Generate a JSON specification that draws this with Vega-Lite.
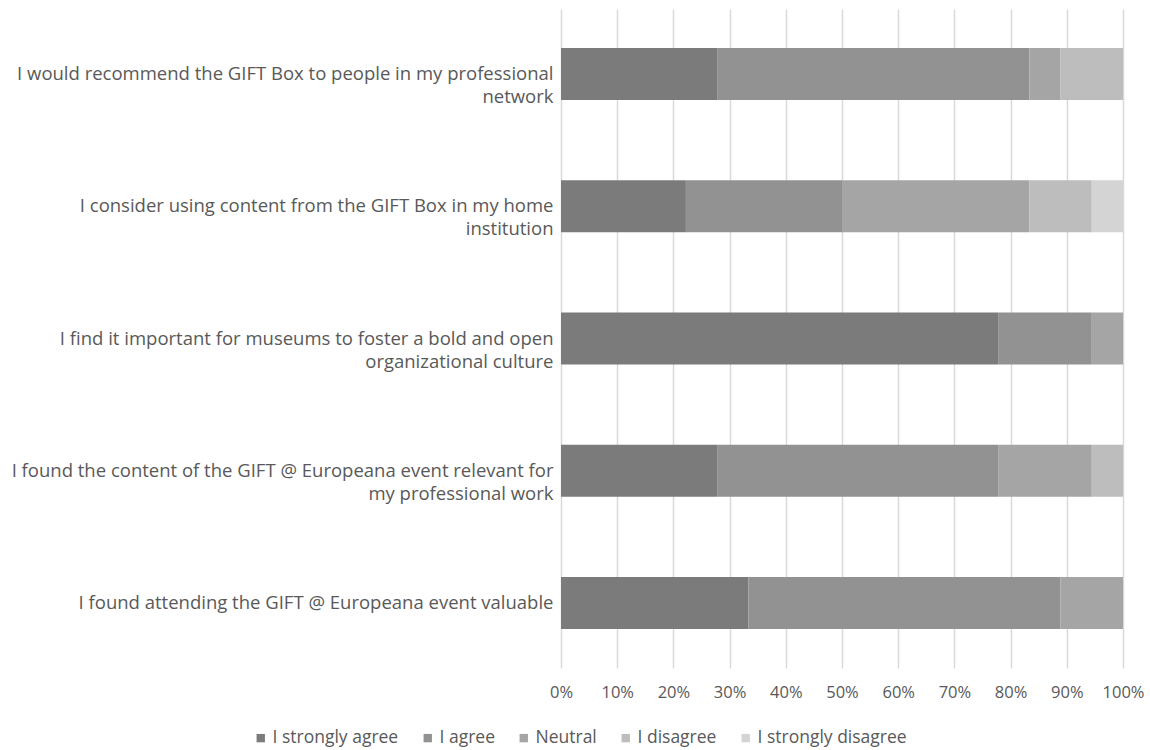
{
  "$schema": "https://vega.github.io/schema/vega-lite/v6.json",
  "width": 562,
  "height": 659,
  "autosize": "none",
  "padding": {"left": 561, "top": 9, "right": 27, "bottom": 82},
  "background": "white",
  "data": {
    "values": [
      {"q": "I would recommend the GIFT Box to people in my professional|network", "r": "I strongly agree", "k": 1, "v": 0.2778},
      {"q": "I would recommend the GIFT Box to people in my professional|network", "r": "I agree", "k": 2, "v": 0.5556},
      {"q": "I would recommend the GIFT Box to people in my professional|network", "r": "Neutral", "k": 3, "v": 0.0556},
      {"q": "I would recommend the GIFT Box to people in my professional|network", "r": "I disagree", "k": 4, "v": 0.1111},
      {"q": "I would recommend the GIFT Box to people in my professional|network", "r": "I strongly disagree", "k": 5, "v": 0},
      {"q": "I consider using content from the GIFT Box in my home|institution", "r": "I strongly agree", "k": 1, "v": 0.2222},
      {"q": "I consider using content from the GIFT Box in my home|institution", "r": "I agree", "k": 2, "v": 0.2778},
      {"q": "I consider using content from the GIFT Box in my home|institution", "r": "Neutral", "k": 3, "v": 0.3333},
      {"q": "I consider using content from the GIFT Box in my home|institution", "r": "I disagree", "k": 4, "v": 0.1111},
      {"q": "I consider using content from the GIFT Box in my home|institution", "r": "I strongly disagree", "k": 5, "v": 0.0556},
      {"q": "I find it important for museums to foster a bold and open|organizational culture", "r": "I strongly agree", "k": 1, "v": 0.7778},
      {"q": "I find it important for museums to foster a bold and open|organizational culture", "r": "I agree", "k": 2, "v": 0.1667},
      {"q": "I find it important for museums to foster a bold and open|organizational culture", "r": "Neutral", "k": 3, "v": 0.0556},
      {"q": "I find it important for museums to foster a bold and open|organizational culture", "r": "I disagree", "k": 4, "v": 0},
      {"q": "I find it important for museums to foster a bold and open|organizational culture", "r": "I strongly disagree", "k": 5, "v": 0},
      {"q": "I found the content of the GIFT @ Europeana event relevant for|my professional work", "r": "I strongly agree", "k": 1, "v": 0.2778},
      {"q": "I found the content of the GIFT @ Europeana event relevant for|my professional work", "r": "I agree", "k": 2, "v": 0.5},
      {"q": "I found the content of the GIFT @ Europeana event relevant for|my professional work", "r": "Neutral", "k": 3, "v": 0.1667},
      {"q": "I found the content of the GIFT @ Europeana event relevant for|my professional work", "r": "I disagree", "k": 4, "v": 0.0556},
      {"q": "I found the content of the GIFT @ Europeana event relevant for|my professional work", "r": "I strongly disagree", "k": 5, "v": 0},
      {"q": "I found attending the GIFT @ Europeana event valuable", "r": "I strongly agree", "k": 1, "v": 0.3333},
      {"q": "I found attending the GIFT @ Europeana event valuable", "r": "I agree", "k": 2, "v": 0.5556},
      {"q": "I found attending the GIFT @ Europeana event valuable", "r": "Neutral", "k": 3, "v": 0.1111},
      {"q": "I found attending the GIFT @ Europeana event valuable", "r": "I disagree", "k": 4, "v": 0},
      {"q": "I found attending the GIFT @ Europeana event valuable", "r": "I strongly disagree", "k": 5, "v": 0}
    ]
  },
  "mark": {"type": "bar"},
  "encoding": {
    "y": {
      "field": "q",
      "type": "nominal",
      "sort": null,
      "scale": {"paddingInner": 0.606, "paddingOuter": 0.295},
      "axis": {
        "title": null,
        "domain": false,
        "ticks": false,
        "labelExpr": "split(datum.label, '|')",
        "labelAlign": "right",
        "labelPadding": 8,
        "labelLineHeight": 23,
        "labelLimit": 600,
        "labelFont": "Open Sans",
        "labelFontSize": 18.5,
        "labelColor": "#595959"
      }
    },
    "x": {
      "field": "v",
      "type": "quantitative",
      "stack": "zero",
      "scale": {"domain": [0, 1], "nice": false},
      "axis": {
        "title": null,
        "format": "%",
        "values": [0, 0.1, 0.2, 0.3, 0.4, 0.5, 0.6, 0.7, 0.8, 0.9, 1],
        "domain": false,
        "ticks": false,
        "grid": true,
        "gridColor": "#d9d9d9",
        "gridWidth": 1.5,
        "labelFlush": false,
        "labelOverlap": false,
        "labelAlign": "center",
        "labelPadding": 16,
        "labelFont": "Open Sans",
        "labelFontSize": 16.5,
        "labelColor": "#595959"
      }
    },
    "color": {
      "field": "r",
      "type": "nominal",
      "scale": {
        "domain": ["I strongly agree", "I agree", "Neutral", "I disagree", "I strongly disagree"],
        "range": ["#7b7b7b", "#929292", "#a5a5a5", "#bdbdbd", "#d4d4d4"]
      },
      "legend": {
        "title": null,
        "orient": "none",
        "direction": "horizontal",
        "legendX": -309,
        "legendY": 720,
        "symbolType": "square",
        "symbolSize": 70,
        "symbolStrokeWidth": 0,
        "labelFont": "Open Sans",
        "labelFontSize": 17.5,
        "labelColor": "#595959",
        "columnPadding": 20,
        "labelOffset": 3,
        "labelLimit": 300
      }
    },
    "order": {"field": "k", "type": "quantitative"}
  },
  "config": {"view": {"stroke": null}}
}
